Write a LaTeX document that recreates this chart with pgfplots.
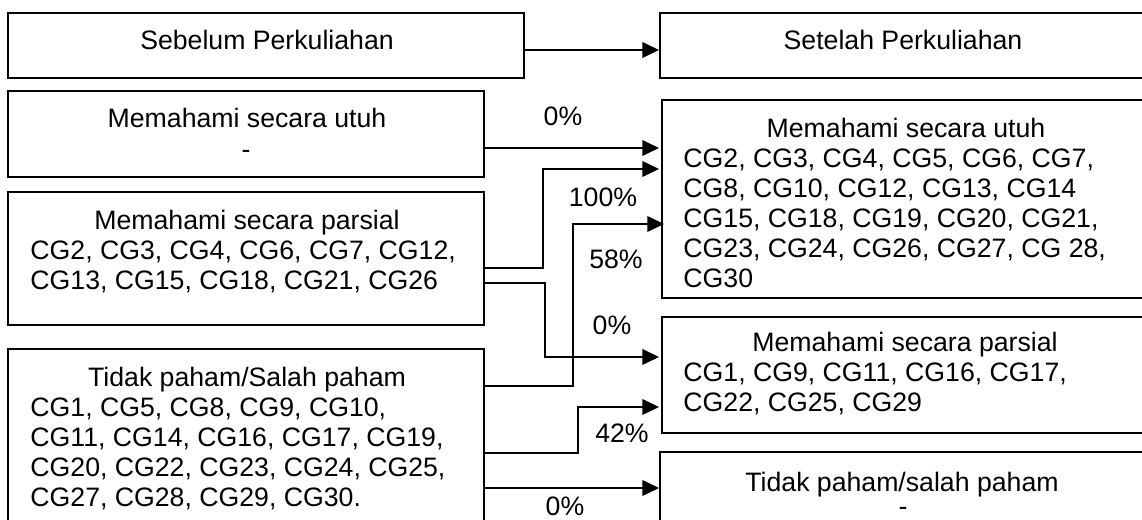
\documentclass[border=0pt]{standalone}
\usepackage{fontspec}
\setmainfont{Liberation Sans}
\usepackage{pgfplots}
\pgfplotsset{compat=1.18}
\usetikzlibrary{arrows.meta}

\begin{document}
\begin{tikzpicture}[
  t/.style={font=\fontsize{12}{14}\selectfont, inner sep=0pt, anchor=base},
  tl/.style={font=\fontsize{12}{14}\selectfont, inner sep=0pt, anchor=base west},
  bx/.style={draw=black, line width=0.9pt},
  arr/.style={draw=black, solid, line width=0.9pt, mark=none,
    -{Triangle[length=7.5pt,width=7pt]}},
]
\begin{axis}[
  scale only axis, width=513.9pt, height=234pt,
  xmin=0, xmax=1142, ymin=0, ymax=520, y dir=reverse,
  hide axis, clip=true,
]
% ---- boxes ----
\draw[bx] (axis cs:8,13) rectangle (axis cs:524,78);
\draw[bx] (axis cs:660,13) rectangle (axis cs:1160,78);
\draw[bx] (axis cs:8,91) rectangle (axis cs:484,177);
\draw[bx] (axis cs:8,192) rectangle (axis cs:484,325);
\draw[bx] (axis cs:8,349) rectangle (axis cs:484,540);
\draw[bx] (axis cs:662,100) rectangle (axis cs:1160,298);
\draw[bx] (axis cs:662,317) rectangle (axis cs:1160,433);
\draw[bx] (axis cs:660,452) rectangle (axis cs:1160,540);

% ---- arrows ----
\addplot[arr] coordinates {(524,50) (659,50)};
\addplot[arr] coordinates {(484,148) (659,148)};
\addplot[arr] coordinates {(484,268) (543,268) (543,169) (659,169)};
\addplot[arr] coordinates {(484,386) (573,386) (573,224) (664,224)};
\addplot[arr] coordinates {(484,283) (545,283) (545,357) (659,357)};
\addplot[arr] coordinates {(484,453) (578,453) (578,407) (659,407)};
\addplot[arr] coordinates {(484,488) (659,488)};

% ---- percentages ----
\node[t] at (axis cs:563,126) {0\%};
\node[t] at (axis cs:603,207) {100\%};
\node[t] at (axis cs:616,269) {58\%};
\node[t] at (axis cs:612,335) {0\%};
\node[t] at (axis cs:622,443) {42\%};
\node[t] at (axis cs:565,516) {0\%};

% ---- header texts ----
\node[t] at (axis cs:267,50) {Sebelum Perkuliahan};
\node[t] at (axis cs:903,50) {Setelah Perkuliahan};

% ---- left boxes ----
\node[t] at (axis cs:247,128) {Memahami secara utuh};
\node[t] at (axis cs:246,159) {-};

\node[t] at (axis cs:247,230) {Memahami secara parsial};
\node[tl] at (axis cs:30,260) {CG2, CG3, CG4, CG6, CG7, CG12,};
\node[tl] at (axis cs:30,290) {CG13, CG15, CG18, CG21, CG26};

\node[t] at (axis cs:247,387) {Tidak paham/Salah paham};
\node[tl] at (axis cs:30,417) {CG1, CG5, CG8, CG9, CG10,};
\node[tl] at (axis cs:30,447) {CG11, CG14, CG16, CG17, CG19,};
\node[tl] at (axis cs:30,477) {CG20, CG22, CG23, CG24, CG25,};
\node[tl] at (axis cs:30,507) {CG27, CG28, CG29, CG30.};

% ---- right boxes ----
\node[t] at (axis cs:906,138) {Memahami secara utuh};
\node[tl] at (axis cs:683,168) {CG2, CG3, CG4, CG5, CG6, CG7,};
\node[tl] at (axis cs:683,198) {CG8, CG10, CG12, CG13, CG14};
\node[tl] at (axis cs:683,228) {CG15, CG18, CG19, CG20, CG21,};
\node[tl] at (axis cs:683,258) {CG23, CG24, CG26, CG27, CG 28,};
\node[tl] at (axis cs:683,288) {CG30};

\node[t] at (axis cs:905,352) {Memahami secara parsial};
\node[tl] at (axis cs:683,382) {CG1, CG9, CG11, CG16, CG17,};
\node[tl] at (axis cs:683,412) {CG22, CG25, CG29};

\node[t] at (axis cs:902,492) {Tidak paham/salah paham};
\node[t] at (axis cs:903,516) {-};
\end{axis}
\pgfresetboundingbox
\path[use as bounding box] (current axis.south west) rectangle (current axis.north east);
\end{tikzpicture}
\end{document}
